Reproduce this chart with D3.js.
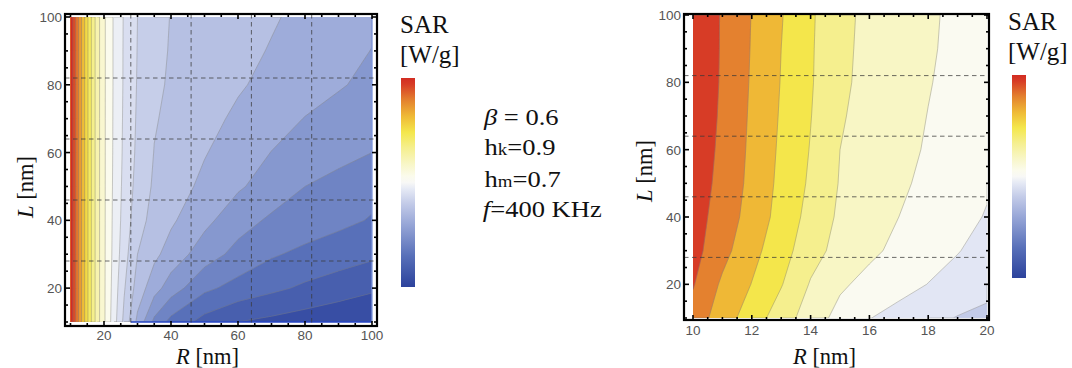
<!DOCTYPE html>
<html><head><meta charset="utf-8">
<script src="https://cdn.jsdelivr.net/npm/d3@7"></script>
<style>body{margin:0;background:#fff} svg{display:block}</style>
</head><body>
<svg id="c" width="1072" height="368"></svg>
<script>
// ---------------- data ----------------
// Left panel: relative SAR level on an (R, L) grid (rows: L ascending)
const leftR = [10, 11, 12, 13, 14, 16, 18, 20, 23, 26, 30, 35, 40, 50, 60, 70, 80, 90, 100];
const leftL = [10, 20, 30, 40, 50, 60, 70, 80, 90, 100];
const leftSAR = [
  [20.8, 19.63, 18.44, 17.33, 16.22, 14.2, 12.42, 11.17, 9.40, 7.75, 5.75, 3.75, 2.67, 1.63, 1.00, 0.75, 0.50, 0.25, 0.00],
  [20.8, 19.63, 18.44, 17.33, 16.22, 14.2, 12.42, 11.17, 9.55, 8.10, 6.57, 5.40, 4.50, 3.22, 2.65, 2.22, 1.83, 1.50, 1.17],
  [20.8, 19.63, 18.44, 17.33, 16.22, 14.2, 12.42, 11.17, 9.67, 8.42, 7.00, 6.23, 5.59, 4.48, 3.69, 3.11, 2.77, 2.49, 2.20],
  [20.8, 19.63, 18.44, 17.33, 16.22, 14.2, 12.42, 11.17, 9.73, 8.61, 7.39, 6.65, 6.15, 5.26, 4.40, 3.84, 3.54, 3.24, 2.93],
  [20.8, 19.63, 18.44, 17.33, 16.22, 14.2, 12.42, 11.17, 9.78, 8.72, 7.64, 6.85, 6.48, 5.77, 5.13, 4.56, 4.00, 3.64, 3.29],
  [20.8, 19.63, 18.44, 17.33, 16.22, 14.2, 12.42, 11.17, 9.82, 8.80, 7.79, 6.97, 6.67, 6.06, 5.51, 4.98, 4.66, 4.33, 4.00],
  [20.8, 19.63, 18.44, 17.33, 16.22, 14.2, 12.42, 11.17, 9.84, 8.84, 7.87, 7.08, 6.78, 6.29, 5.83, 5.39, 4.97, 4.72, 4.46],
  [20.8, 19.63, 18.44, 17.33, 16.22, 14.2, 12.42, 11.17, 9.86, 8.88, 7.93, 7.21, 6.87, 6.48, 6.10, 5.75, 5.41, 5.07, 4.81],
  [20.8, 19.63, 18.44, 17.33, 16.22, 14.2, 12.42, 11.17, 9.86, 8.89, 7.97, 7.32, 6.92, 6.59, 6.26, 5.94, 5.61, 5.29, 4.98],
  [20.8, 19.63, 18.44, 17.33, 16.22, 14.2, 12.42, 11.17, 9.87, 8.91, 8.00, 7.41, 6.96, 6.67, 6.38, 6.09, 5.78, 5.47, 5.16]
];
const leftLevels = d3.range(1, 21);

// Right panel: relative SAR level, R = 10..20 nm, L = 10..100 nm
const rightR = [10, 11, 12, 13, 14, 15, 16, 17, 18, 19, 20];
const rightL = [10, 20, 30, 40, 50, 60, 70, 80, 90, 100];
const rightSAR = [
  [7.60, 6.48, 5.50, 4.50, 3.50, 2.68, 2.03, 1.65, 1.29, 0.95, 0.70],
  [8.07, 6.83, 5.97, 5.06, 3.92, 3.15, 2.71, 2.35, 1.98, 1.68, 1.37],
  [8.35, 7.32, 6.30, 5.42, 4.38, 3.67, 3.19, 2.78, 2.41, 2.04, 1.69],
  [8.45, 7.55, 6.61, 5.64, 4.67, 3.83, 3.42, 3.00, 2.64, 2.29, 1.94],
  [8.59, 7.68, 6.74, 5.75, 4.85, 3.94, 3.55, 3.16, 2.79, 2.45, 2.10],
  [8.71, 7.76, 6.80, 5.83, 4.95, 4.00, 3.64, 3.27, 2.91, 2.56, 2.21],
  [8.80, 7.83, 6.85, 5.90, 5.03, 4.09, 3.68, 3.33, 2.98, 2.64, 2.31],
  [8.86, 7.88, 6.90, 5.96, 5.09, 4.18, 3.73, 3.39, 3.05, 2.73, 2.41],
  [8.87, 7.90, 6.94, 6.00, 5.11, 4.22, 3.75, 3.43, 3.10, 2.79, 2.50],
  [8.84, 7.91, 6.97, 6.06, 5.14, 4.26, 3.77, 3.45, 3.13, 2.81, 2.56]
];
const rightLevels = d3.range(1, 9);

// axes / ticks
const leftXTicks = [20, 40, 60, 80, 100];
const leftYTicks = [20, 40, 60, 80, 100];
const rightXTicks = [10, 12, 14, 16, 18, 20];
const rightYTicks = [20, 40, 60, 80, 100];
const gridVals = [28, 46, 64, 82];

// ---------------- colour map (thermometer-like) ----------------
const cStops = [0, 0.15, 0.30, 0.40, 0.47, 0.50, 0.53, 0.59, 0.665, 0.74, 0.816, 0.892, 0.97, 1];
const cCols = ["#2c429c", "#5870b9", "#97a6d7", "#c3cbe8", "#e6eaf5", "#f8f8f6", "#fbfbec", "#f8f6c6",
               "#f5ef8f", "#f4e74c", "#efba36", "#e4832f", "#d73c26", "#d22c22"];
const cmap = d3.scaleLinear().domain(cStops).range(cCols).interpolate(d3.interpolateRgb).clamp(true);
const leftT = d3.scaleLinear().domain([0.5, 6.5, 9.5, 20.5]).range([0.04, 0.37, 0.48, 1.0]);
const rightT = d3.scaleLinear().domain([0.5, 1.5, 2.5, 8.5]).range([0.40, 0.462, 0.515, 0.97]);

const svg = d3.select("#c");
const serif = "'Liberation Serif','Times New Roman',serif";
const sans = "'Liberation Sans',Arial,sans-serif";

function panel(cfg) {
  const g = svg.append("g");
  const xs = d3.scaleLinear().domain(cfg.xDom).range(cfg.xRange);
  const ys = d3.scaleLinear().domain(cfg.yDom).range(cfg.yRange);
  const n = cfg.R.length, m = cfg.L.length;
  const ri = d3.scaleLinear().domain(d3.range(n)).range(cfg.R).clamp(true);
  const li = d3.scaleLinear().domain(d3.range(m)).range(cfg.L).clamp(true);
  const px = gx => xs(ri(gx - 0.5)), py = gy => ys(li(gy - 0.5));
  const cs = d3.contours().size([n, m]).thresholds(cfg.levels)(cfg.vals.flat());
  const clipId = "clip" + cfg.id;
  const X0 = xs(cfg.xDom[0]), Y0 = ys(cfg.yDom[1]), W = xs(cfg.xDom[1]) - X0, H = ys(cfg.yDom[0]) - Y0;
  g.append("clipPath").attr("id", clipId).append("rect").attr("x", X0).attr("y", Y0).attr("width", W).attr("height", H);
  const dg = g.append("g").attr("clip-path", `url(#${clipId})`);
  dg.append("rect").attr("x", X0).attr("y", Y0).attr("width", W).attr("height", H).attr("fill", cfg.color(0));
  cs.forEach(c => {
    const d = c.coordinates.map(poly => poly.map(ring =>
      "M" + ring.map(p => px(p[0]).toFixed(2) + "," + py(p[1]).toFixed(2)).join("L") + "Z").join("")).join("");
    dg.append("path").attr("d", d).attr("fill", cfg.color(c.value))
      .attr("stroke", cfg.color(c.value)).attr("stroke-width", 0.4);
  });
  // contour lines (skip segments lying on the grid border)
  const onEdge = p => p[0] <= 0 || p[0] >= n || p[1] <= 0 || p[1] >= m;
  cs.forEach(c => {
    let d = "";
    c.coordinates.forEach(poly => poly.forEach(ring => {
      for (let i = 0; i < ring.length - 1; i++) {
        const a = ring[i], b = ring[i + 1];
        if (onEdge(a) && onEdge(b)) continue;
        d += "M" + px(a[0]).toFixed(2) + "," + py(a[1]).toFixed(2) + "L" + px(b[0]).toFixed(2) + "," + py(b[1]).toFixed(2);
      }
    }));
    dg.append("path").attr("d", d).attr("fill", "none").attr("stroke", "#7d7d7d")
      .attr("stroke-opacity", 0.5).attr("stroke-width", 0.8);
  });
  // thin plot-edge lines seen along the deep-blue region of the left panel
  (cfg.edgeLines || []).forEach(e => g.append("line")
    .attr("x1", xs(e[0])).attr("y1", ys(e[1])).attr("x2", xs(e[2])).attr("y2", ys(e[3]))
    .attr("stroke", e[4]).attr("stroke-width", 1.3));
  const [fx0, fy0, fx1, fy1] = cfg.frame;
  // dashed gridlines
  (cfg.vGrid || []).forEach(v => g.append("line").attr("x1", xs(v)).attr("x2", xs(v)).attr("y1", fy0).attr("y2", fy1)
    .attr("stroke", "#3a3a3a").attr("stroke-opacity", 0.75).attr("stroke-width", 1).attr("stroke-dasharray", "4.5,3.5"));
  (cfg.hGrid || []).forEach(v => g.append("line").attr("y1", ys(v)).attr("y2", ys(v)).attr("x1", fx0).attr("x2", fx1)
    .attr("stroke", "#3a3a3a").attr("stroke-opacity", 0.75).attr("stroke-width", 1).attr("stroke-dasharray", "4.5,3.5"));
  // ticks (inside the frame, all four sides)
  const tk = g.append("g").attr("stroke", "#000").attr("stroke-width", 1.6);
  d3.range(cfg.xDom[0], cfg.xDom[1] + 1e-9, cfg.xMinor).forEach(v => {
    const len = cfg.xTicks.includes(+v.toFixed(4)) ? 5 : 3;
    tk.append("line").attr("x1", xs(v)).attr("x2", xs(v)).attr("y1", fy1).attr("y2", fy1 - len);
    tk.append("line").attr("x1", xs(v)).attr("x2", xs(v)).attr("y1", fy0).attr("y2", fy0 + len);
  });
  d3.range(cfg.yDom[0], cfg.yDom[1] + 1e-9, cfg.yMinor).forEach(v => {
    const len = cfg.yTicks.includes(v) ? 5 : 3;
    tk.append("line").attr("y1", ys(v)).attr("y2", ys(v)).attr("x1", fx0).attr("x2", fx0 + len);
    tk.append("line").attr("y1", ys(v)).attr("y2", ys(v)).attr("x1", fx1).attr("x2", fx1 - len);
  });
  g.append("rect").attr("x", fx0).attr("y", fy0).attr("width", fx1 - fx0).attr("height", fy1 - fy0)
    .attr("fill", "none").attr("stroke", "#000").attr("stroke-width", 2.2);
  // tick labels
  cfg.xTicks.forEach(v => g.append("text").attr("x", xs(v)).attr("y", cfg.xLabelY).attr("text-anchor", "middle")
    .attr("font-family", sans).attr("font-size", 13.5).attr("fill", "#555").text(v));
  cfg.yTicks.forEach(v => g.append("text").attr("x", fx0 - 3).attr("y", ys(v) + 5).attr("text-anchor", "end")
    .attr("font-family", sans).attr("font-size", 13.5).attr("fill", "#555").text(v));
  // axis titles
  const xt = g.append("text").attr("x", cfg.xTitle[0]).attr("y", cfg.xTitle[1])
    .attr("font-family", serif).attr("font-size", 22.5).attr("fill", "#111");
  xt.append("tspan").attr("font-style", "italic").text("R");
  xt.append("tspan").text(" [nm]");
  const yt = g.append("text").attr("transform", `translate(${cfg.yTitle[0]},${cfg.yTitle[1]}) rotate(-90)`)
    .attr("text-anchor", "middle").attr("font-family", serif).attr("font-size", 22.5).attr("fill", "#111");
  yt.append("tspan").attr("font-style", "italic").text("L");
  yt.append("tspan").text(" [nm]");
}

panel({id: "L", R: leftR, L: leftL, vals: leftSAR, levels: leftLevels,
  color: v => cmap(leftT(v + 0.5)),
  xDom: [10, 100], yDom: [10, 100], xRange: [70.5, 372], yRange: [322, 17],
  frame: [65, 14, 377, 326], vGrid: gridVals, hGrid: gridVals,
  edgeLines: [[28, 10, 100, 10, "#2646c4"], [100, 10, 100, 100, "#7d95dc"]],
  xTicks: leftXTicks, yTicks: leftYTicks, xMinor: 5, yMinor: 5,
  xLabelY: 340, xTitle: [176, 364], yTitle: [33, 187]});

panel({id: "R", R: rightR, L: rightL, vals: rightSAR, levels: rightLevels,
  color: v => cmap(rightT(v + 0.5)),
  xDom: [10, 20], yDom: [10, 100], xRange: [693, 987], yRange: [318, 15],
  frame: [684, 14, 989, 320], hGrid: gridVals,
  xTicks: rightXTicks, yTicks: rightYTicks, xMinor: 0.5, yMinor: 5,
  xLabelY: 335, xTitle: [793, 364], yTitle: [652, 171]});

// colour bars
const defs = svg.append("defs");
const grad = defs.append("linearGradient").attr("id", "cbar").attr("x1", 0).attr("y1", 1).attr("x2", 0).attr("y2", 0);
cStops.forEach((s, i) => grad.append("stop").attr("offset", s).attr("stop-color", cCols[i]));
[[401, 78, 287, 400, 33, 63], [1012, 75, 278, 1008, 30, 60]].forEach(([x, y0, y1, tx, ty1, ty2]) => {
  svg.append("rect").attr("x", x).attr("y", y0).attr("width", 14).attr("height", y1 - y0).attr("fill", "url(#cbar)");
  svg.append("text").attr("x", tx).attr("y", ty1).attr("font-family", serif).attr("font-size", 25).attr("fill", "#111").text("SAR");
  svg.append("text").attr("x", tx).attr("y", ty2).attr("font-family", serif).attr("font-size", 25).attr("fill", "#111").text("[W/g]");
});

// parameter text (slightly widened, as in the reference)
const pt = svg.append("g").attr("transform", "translate(484,0) scale(1.18,1)")
  .attr("font-family", serif).attr("font-size", 22.5).attr("fill", "#111");
pt.append("text").attr("x", 0).attr("y", 125).call(t => {
  t.append("tspan").attr("font-style", "italic").text("β");
  t.append("tspan").text(" = 0.6");
});
pt.append("text").attr("x", 0.5).attr("y", 155).call(t => {
  t.append("tspan").text("h"); t.append("tspan").attr("font-size", 16).text("k"); t.append("tspan").text("=0.9");
});
pt.append("text").attr("x", 0.5).attr("y", 187).call(t => {
  t.append("tspan").text("h"); t.append("tspan").attr("font-size", 16).text("m"); t.append("tspan").text("=0.7");
});
pt.append("text").attr("x", -1).attr("y", 217).call(t => {
  t.append("tspan").attr("font-style", "italic").text("f");
  t.append("tspan").text("=400 KHz");
});
</script>
</body></html>
